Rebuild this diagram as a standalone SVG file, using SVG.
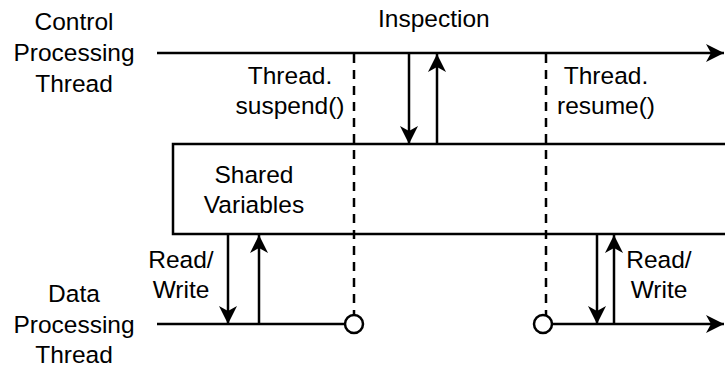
<svg xmlns="http://www.w3.org/2000/svg" width="725" height="369" viewBox="0 0 725 369">
  <style>
    .ln { stroke: #000; stroke-width: 2.5; fill: none; }
    .dash { stroke: #000; stroke-width: 2.5; fill: none; stroke-dasharray: 9 7; }
    .t { font-family: "Liberation Sans", Arial, Helvetica, sans-serif; font-size: 24.5px; fill: #000; }
    .m { text-anchor: middle; }
  </style>
  <defs>
    <marker id="arrow" markerUnits="userSpaceOnUse" viewBox="-1 -10 21 20" markerWidth="21" markerHeight="20" refX="18" refY="0" orient="auto">
      <path d="M0,-9 L18,0 L0,9 L5,0 Z" fill="#000"/>
    </marker>
  </defs>
  <rect width="725" height="369" fill="#fff"/>

  <!-- Shared variables block -->
  <g id="shared-variables">
    <rect class="ln" x="173" y="144" width="570" height="90"/>
    <text class="t m" x="254" y="183">Shared</text>
    <text class="t m" x="254" y="213">Variables</text>
  </g>

  <!-- Thread labels -->
  <g id="control-thread">
    <text class="t m" x="74" y="30">Control</text>
    <text class="t m" x="74" y="61">Processing</text>
    <text class="t m" x="74" y="92">Thread</text>
  </g>
  <g id="data-thread">
    <text class="t m" x="74" y="302">Data</text>
    <text class="t m" x="74" y="333">Processing</text>
    <text class="t m" x="74" y="363">Thread</text>
  </g>

  <g id="connectors">
    <!-- timelines -->
    <path class="ln" d="M157,53 H724" marker-end="url(#arrow)"/>
    <path class="ln" d="M157,324 H345"/>
    <path class="ln" d="M552,324 H724" marker-end="url(#arrow)"/>
    <!-- suspend / resume calls -->
    <path class="dash" d="M354,54 V315"/>
    <path class="dash" d="M546,54 V315"/>
    <!-- inspection -->
    <path class="ln" d="M409,53 V144" marker-end="url(#arrow)"/>
    <path class="ln" d="M437,144 V54" marker-end="url(#arrow)"/>
    <!-- read / write -->
    <path class="ln" d="M228,234 V324" marker-end="url(#arrow)"/>
    <path class="ln" d="M259,324 V235" marker-end="url(#arrow)"/>
    <path class="ln" d="M597,234 V324" marker-end="url(#arrow)"/>
    <path class="ln" d="M614,324 V235" marker-end="url(#arrow)"/>
  </g>

  <!-- Suspend / resume points on the data thread -->
  <g id="suspend-point">
    <circle class="ln" cx="354" cy="324" r="9" fill="#fff"/>
  </g>
  <g id="resume-point">
    <circle class="ln" cx="543" cy="324" r="9" fill="#fff"/>
  </g>

  <g id="labels">
    <text class="t" x="378" y="27">Inspection</text>
    <text class="t m" x="290" y="84">Thread.</text>
    <text class="t m" x="290" y="114">suspend()</text>
    <text class="t m" x="606" y="84">Thread.</text>
    <text class="t m" x="606" y="114">resume()</text>
    <text class="t m" x="181" y="268">Read/</text>
    <text class="t m" x="181" y="298">Write</text>
    <text class="t m" x="659" y="268">Read/</text>
    <text class="t m" x="659" y="298">Write</text>
  </g>
</svg>
